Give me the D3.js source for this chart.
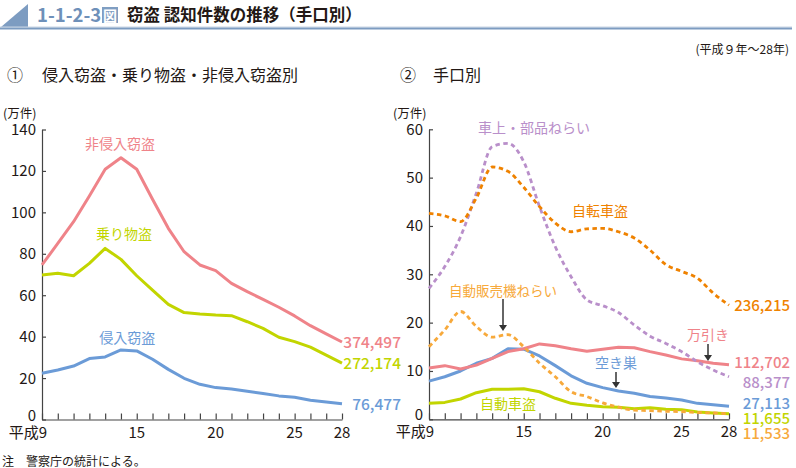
<!DOCTYPE html>
<html><head><meta charset="utf-8">
<script src="https://cdn.jsdelivr.net/npm/d3@7/dist/d3.min.js"></script>
<style>
html,body{margin:0;padding:0;background:#fff;}
svg{display:block;font-family:"Noto Sans CJK JP","Noto Sans",sans-serif;}
</style></head>
<body>
<svg id="chart" width="796" height="468"></svg>
<script>
// ---------- data (万件) ----------
const years = [9,10,11,12,13,14,15,16,17,18,19,20,21,22,23,24,25,26,27,28];
const xTickLabels = ["平成9","15","20","25","28"];
const xTickYears = [9,15,20,25,28];
const leftYTicks = [0,20,40,60,80,100,120,140];
const rightYTicks = [0,10,20,30,40,50,60];

// ① 侵入窃盗・乗り物盗・非侵入窃盗別
const nonInvasive = [74.6,85.0,95.5,107.9,120.8,126.4,120.8,106.3,92.3,81.0,74.6,71.9,65.7,61.7,58.0,54.2,50.0,45.3,41.3,37.4];
const vehicleTheft = [69.8,70.6,69.4,75.4,82.6,77.3,69.4,62.5,55.6,51.6,50.9,50.4,50.1,47.2,44.0,39.7,37.6,34.9,31.1,27.2];
const invasive = [22.3,23.9,25.8,29.4,30.2,33.6,33.1,29.1,24.2,19.9,17.0,15.4,14.7,13.6,12.5,11.4,10.7,9.3,8.4,7.6];

// ② 手口別
const bicycle = [42.6,42.1,40.9,45.8,52.2,51.3,48.0,44.0,40.6,38.8,39.4,39.5,38.8,37.5,35.0,32.0,30.6,29.2,26.1,23.6];
const carParts = [27.1,31.6,37.8,46.8,56.4,57.1,53.3,44.0,35.7,29.5,24.7,23.5,22.1,19.5,17.2,15.7,14.0,11.9,10.2,8.8];
const vending = [15.0,18.5,22.3,19.2,17.0,17.5,15.0,11.6,8.8,5.7,4.7,3.4,2.5,1.9,1.8,1.65,1.6,1.4,1.3,1.15];
const shoplifting = [10.6,11.1,10.4,11.2,12.6,14.0,14.6,15.6,15.2,14.6,14.1,14.5,14.9,14.8,14.0,13.3,12.5,12.1,11.6,11.3];
const burglary = [7.9,8.8,10.0,11.6,12.6,14.6,14.5,13.1,11.1,9.0,7.45,6.55,5.85,5.4,4.7,4.4,4.0,3.3,3.0,2.7];
const autoTheft = [3.3,3.5,4.2,5.5,6.2,6.2,6.3,5.7,4.35,3.3,2.9,2.6,2.5,2.2,2.4,2.1,2.0,1.5,1.3,1.17];

const endLabelsLeft = ["374,497","272,174","76,477"];
const endLabelsRight = ["236,215","112,702","88,377","27,113","11,655","11,533"];

// ---------- styles ----------
const C = {
  pink:"#ef8389", green:"#c2d500", blue:"#6b9bd7",
  orange:"#ef8200", purple:"#b98fca", lorange:"#f7a93b",
  axis:"#444", text:"#231815", head:"#7d9cc1"
};

const svg = d3.select("#chart");

// ---------- header ----------
svg.append("polygon").attr("points","1,27 28,4 28,27").attr("fill",C.head);
svg.append("line").attr("x1",0).attr("x2",792).attr("y1",27).attr("y2",27).attr("stroke","#c9d5e4").attr("stroke-width",1);
svg.append("line").attr("x1",0).attr("x2",792).attr("y1",28.5).attr("y2",28.5).attr("stroke",C.head).attr("stroke-width",2);
svg.append("text").attr("x",37).attr("y",22).attr("font-size",18.5).attr("font-weight","bold")
  .attr("fill","#6e90b9").text("1-1-2-3");
svg.append("rect").attr("x",102).attr("y",7).attr("width",16).attr("height",16).attr("fill","#7f9ec2");
svg.append("text").attr("x",110).attr("y",20.5).attr("text-anchor","middle").attr("font-size",14)
  .attr("font-weight","bold").attr("fill","#fff").text("図");
svg.append("text").attr("x",127).attr("y",21).attr("font-size",16.5).attr("font-weight","bold")
  .attr("fill",C.text).text("窃盗 認知件数の推移（手口別）");

svg.append("text").attr("x",789).attr("y",54).attr("text-anchor","end").attr("font-size",12)
  .attr("fill",C.text).text("(平成９年～28年)");

svg.append("text").attr("x",7).attr("y",81).attr("font-size",16).attr("fill",C.text).text("①");
svg.append("text").attr("x",42).attr("y",81).attr("font-size",16).attr("fill",C.text).text("侵入窃盗・乗り物盗・非侵入窃盗別");
svg.append("text").attr("x",400).attr("y",81).attr("font-size",16).attr("fill",C.text).text("②");
svg.append("text").attr("x",433).attr("y",81).attr("font-size",16).attr("fill",C.text).text("手口別");

svg.append("text").attr("x",3).attr("y",118).attr("font-size",12.5).attr("fill",C.text).text("(万件)");
svg.append("text").attr("x",393).attr("y",118).attr("font-size",12.5).attr("fill",C.text).text("(万件)");

svg.append("text").attr("x",2).attr("y",466).attr("font-size",12).attr("fill",C.text).text("注　警察庁の統計による。");

// ---------- panel builder ----------
function panel(x0, x1, yTop, yBot, yMax, yTicks){
  const x = d3.scaleLinear().domain([9,28]).range([x0,x1]);
  const y = d3.scaleLinear().domain([0,yMax]).range([yBot,yTop]);
  const g = svg.append("g");
  const ya = g.append("g").attr("transform",`translate(${x0},0)`)
    .call(d3.axisLeft(y).tickValues(yTicks).tickSizeInner(-4).tickSizeOuter(0).tickFormat(""));
  ya.selectAll("path,line").attr("stroke",C.axis).attr("stroke-width",1.2);
  const xa = g.append("g").attr("transform",`translate(0,${yBot})`)
    .call(d3.axisBottom(x).tickValues(years).tickSizeInner(-6).tickSizeOuter(0).tickFormat(""));
  xa.selectAll("path,line").attr("stroke",C.axis).attr("stroke-width",1.2);
  g.selectAll(".yl").data(yTicks).enter().append("text")
    .attr("x",x0-6).attr("y",d=>y(d)+(d===0?1:5.5)).attr("text-anchor","end")
    .attr("font-size",15).attr("fill",C.text).text(d=>d);
  g.selectAll(".xl").data(xTickYears).enter().append("text")
    .attr("x",(d,i)=> i===0 ? x(d)+5 : x(d))
    .attr("y",yBot+18)
    .attr("text-anchor",(d,i)=> i===0 ? "end" : "middle")
    .attr("font-size",15).attr("fill",C.text).text((d,i)=>xTickLabels[i]);
  return {x,y,g};
}

function drawLine(p, values, color, dashed){
  const line = d3.line().x((d,i)=>p.x(years[i])).y(d=>p.y(d))
    .curve(dashed ? d3.curveMonotoneX : d3.curveLinear);
  p.g.append("path").datum(values).attr("d",line).attr("fill","none")
    .attr("stroke",color).attr("stroke-width",dashed?2.8:3)
    .attr("stroke-linejoin","round")
    .attr("stroke-dasharray",dashed?"4.5,3.5":null);
}

function label(x, y, txt, color, size, anchor, weight){
  svg.append("text").attr("x",x).attr("y",y).attr("text-anchor",anchor||"middle")
    .attr("font-size",size||14).attr("font-weight",weight||"normal").attr("fill",color).text(txt);
}

function arrow(x, y1, y2){
  svg.append("line").attr("x1",x).attr("x2",x).attr("y1",y1).attr("y2",y2-4)
    .attr("stroke","#333").attr("stroke-width",1.5);
  svg.append("path").attr("d",`M${x-4},${y2-6} L${x+4},${y2-6} L${x},${y2} Z`).attr("fill","#333");
}

// ---------- left panel ----------
const L = panel(42, 342, 129.5, 419.5, 140, leftYTicks);
drawLine(L, nonInvasive, C.pink, false);
drawLine(L, vehicleTheft, C.green, false);
drawLine(L, invasive, C.blue, false);

label(L.x(13.94), L.y(130.6), "非侵入窃盗", C.pink, 14);
label(L.x(14.2), L.y(87.1), "乗り物盗", C.green, 14);
label(L.x(14.4), L.y(36.9), "侵入窃盗", C.blue, 14);

const leftEnd = [nonInvasive, vehicleTheft, invasive];
const leftEndColors = [C.pink, C.green, C.blue];
leftEnd.forEach((s,i)=>{
  label(L.x(28)+59, L.y(s[s.length-1])+6, endLabelsLeft[i], leftEndColors[i], 15.5, "end", 500);
});

// ---------- right panel ----------
const R = panel(429, 729, 129.3, 419.3, 60, rightYTicks);
drawLine(R, autoTheft, C.green, false);
drawLine(R, burglary, C.blue, false);
drawLine(R, shoplifting, C.pink, false);
drawLine(R, vending, C.lorange, true);
drawLine(R, carParts, C.purple, true);
drawLine(R, bicycle, C.orange, true);

label(534, 133, "車上・部品ねらい", C.purple, 14);
label(600, 216, "自転車盗", C.orange, 14);
label(503, 296, "自動販売機ねらい", C.lorange, 13.5);
arrow(503, 299, 331);
label(708, 340, "万引き", C.pink, 14);
arrow(708, 344, 361);
label(616, 368, "空き巣", C.blue, 14);
arrow(616, 372, 388);
label(508, 409, "自動車盗", C.green, 14);

const rightEndY = [311, 368, 388, 409, 424, 439];
const rightEndColors = [C.orange, C.pink, C.purple, C.blue, C.green, C.lorange];
endLabelsRight.forEach((t,i)=>{
  label(R.x(28)+61, rightEndY[i], t, rightEndColors[i], 15, "end", 500);
});
</script>
</body></html>
